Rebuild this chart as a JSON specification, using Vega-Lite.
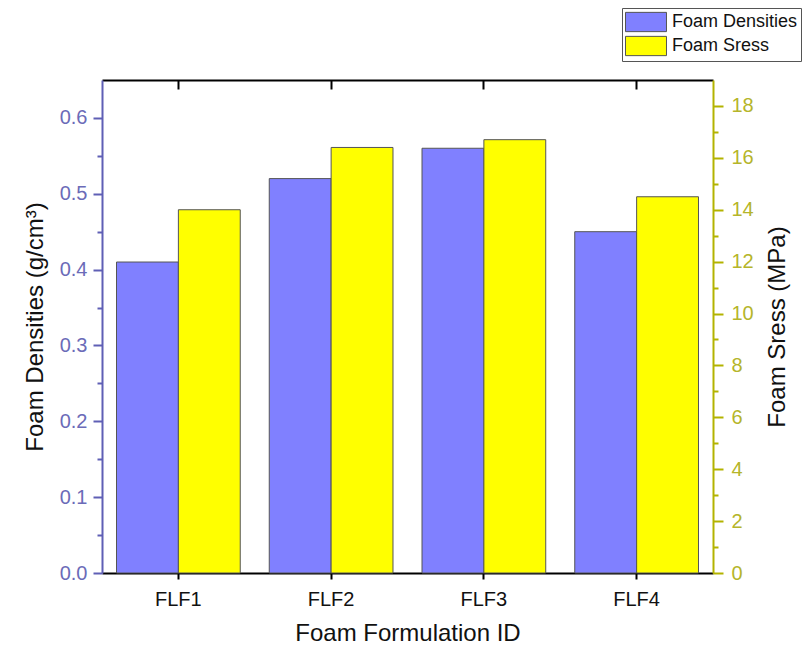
{
  "$schema": "https://vega.github.io/schema/vega-lite/v6.json",
  "width": 611,
  "height": 493,
  "autosize": {"type": "none"},
  "padding": {"left": 102, "top": 80, "right": 90, "bottom": 79},
  "background": "white",
  "config": {
    "view": {"stroke": null},
    "font": "Liberation Sans",
    "axis": {"labelFont": "Liberation Sans", "titleFont": "Liberation Sans", "titleFontWeight": "normal", "grid": false}
  },
  "data": {
    "values": [
      {"id": "FLF1", "series": "Foam Densities", "value": 0.41},
      {"id": "FLF2", "series": "Foam Densities", "value": 0.52},
      {"id": "FLF3", "series": "Foam Densities", "value": 0.56},
      {"id": "FLF4", "series": "Foam Densities", "value": 0.45},
      {"id": "FLF1", "series": "Foam Sress", "value": 14.0},
      {"id": "FLF2", "series": "Foam Sress", "value": 16.4},
      {"id": "FLF3", "series": "Foam Sress", "value": 16.7},
      {"id": "FLF4", "series": "Foam Sress", "value": 14.5}
    ]
  },
  "layer": [
    {
      "transform": [{"filter": "datum.series == 'Foam Densities'"}],
      "mark": {"type": "bar", "stroke": "#555555", "strokeWidth": 1},
      "encoding": {
        "x": {
          "field": "id", "type": "nominal",
          "scale": {"paddingInner": 0.19, "paddingOuter": 0.095},
          "axis": {
            "orient": "bottom", "title": "Foam Formulation ID", "titleFontSize": 24, "titleColor": "#111111",
            "titlePadding": 12, "labelAngle": 0, "labelFontSize": 20, "labelColor": "#111111", "labelPadding": 10,
            "domainColor": "#000000", "domainWidth": 2, "tickColor": "#000000", "tickWidth": 2, "tickSize": 6,
            "bandPosition": 0.5
          }
        },
        "xOffset": {"field": "series", "type": "nominal", "scale": {"domain": ["Foam Densities", "Foam Sress"], "paddingInner": 0, "paddingOuter": 0}},
        "y": {
          "field": "value", "type": "quantitative",
          "scale": {"domain": [0, 0.65], "nice": false, "zero": true},
          "axis": {
            "orient": "left", "title": "Foam Densities (g/cm³)", "titleFontSize": 24, "titleColor": "#111111", "titlePadding": 12,
            "values": [0, 0.05, 0.1, 0.15, 0.2, 0.25, 0.3, 0.35, 0.4, 0.45, 0.5, 0.55, 0.6],
            "labelExpr": "round(datum.value*100) % 10 == 0 ? format(datum.value, '.1f') : ''",
            "labelFontSize": 20, "labelColor": "#6b6bb8", "labelPadding": 6,
            "domainColor": "#5f5fb5", "domainWidth": 2, "tickColor": "#5f5fb5", "tickWidth": 2,
            "tickSize": {"condition": {"test": "round(datum.value*100) % 10 == 0", "value": 9}, "value": 5}
          }
        },
        "color": {
          "field": "series", "type": "nominal",
          "scale": {"domain": ["Foam Densities", "Foam Sress"], "range": ["#8080ff", "#ffff00"]},
          "legend": {
            "orient": "none", "legendX": 520, "legendY": -72, "title": null,
            "symbolType": "M-2,-0.94H2V0.94H-2Z", "symbolSize": 420,
            "symbolStrokeColor": "#555555", "symbolStrokeWidth": 1, "symbolOpacity": 1,
            "labelFontSize": 18, "labelFont": "Liberation Sans", "labelColor": "#111111", "labelOffset": 15,
            "symbolOffset": 10,
            "strokeColor": "#555555", "fillColor": "white", "padding": 3, "rowPadding": 0
          }
        }
      }
    },
    {
      "transform": [{"filter": "datum.series == 'Foam Sress'"}],
      "mark": {"type": "bar", "stroke": "#555555", "strokeWidth": 1},
      "encoding": {
        "x": {
          "field": "id", "type": "nominal",
          "scale": {"paddingInner": 0.19, "paddingOuter": 0.095},
          "axis": {
            "orient": "top", "title": null, "labels": false,
            "domainColor": "#000000", "domainWidth": 2, "tickColor": "#000000", "tickWidth": 2, "tickSize": -9,
            "bandPosition": 0.5
          }
        },
        "xOffset": {"field": "series", "type": "nominal", "scale": {"domain": ["Foam Densities", "Foam Sress"], "paddingInner": 0, "paddingOuter": 0}},
        "y": {
          "field": "value", "type": "quantitative",
          "scale": {"domain": [0, 19], "nice": false, "zero": true},
          "axis": {
            "orient": "right", "title": "Foam Sress (MPa)", "titleFontSize": 24, "titleColor": "#111111", "titlePadding": 12,
            "titleAngle": 270, "titleBaseline": "top",
            "values": [0, 1, 2, 3, 4, 5, 6, 7, 8, 9, 10, 11, 12, 13, 14, 15, 16, 17, 18],
            "labelExpr": "datum.value % 2 == 0 ? format(datum.value, 'd') : ''",
            "labelFontSize": 20, "labelColor": "#b5b52a", "labelPadding": 8,
            "domainColor": "#b3b300", "domainWidth": 2, "tickColor": "#b3b300", "tickWidth": 2,
            "tickSize": {"condition": {"test": "datum.value % 2 == 0", "value": 10}, "value": 5}
          }
        },
        "color": {"field": "series", "type": "nominal"}
      }
    }
  ],
  "resolve": {"scale": {"y": "independent"}, "axis": {"x": "independent"}}
}
